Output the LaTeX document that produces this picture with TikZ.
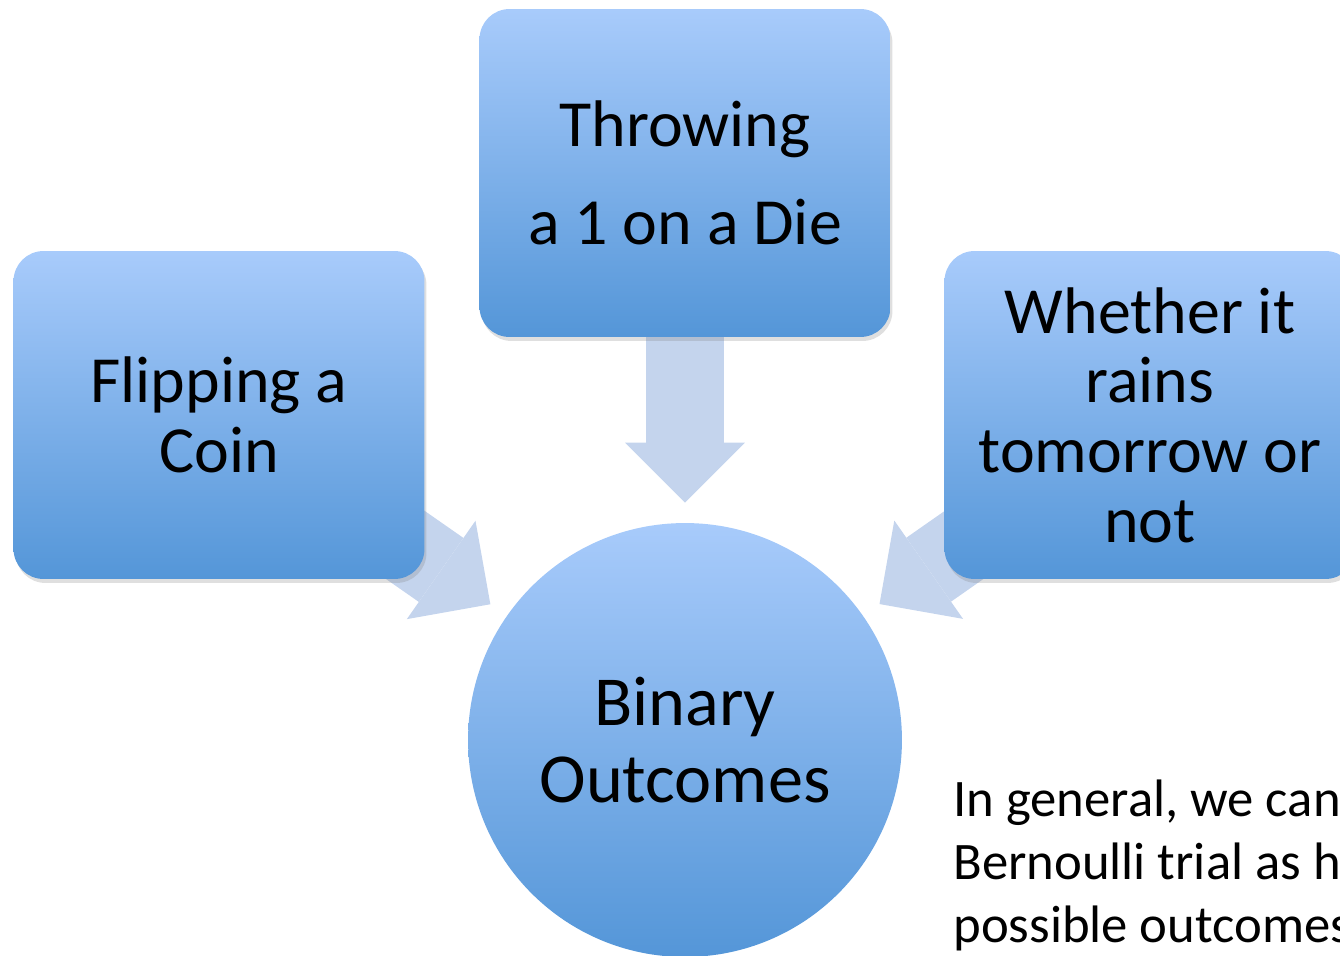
\documentclass[tikz,border=0pt]{standalone}
\usepackage{fontspec}
\setmainfont{Carlito}
\usetikzlibrary{arrows.meta,shadows}
\definecolor{boxTop}{RGB}{168,203,251}
\definecolor{boxBottom}{RGB}{84,150,216}
\definecolor{arrowBlue}{RGB}{196,212,237}
\pgfdeclarelayer{background}
\pgfsetlayers{background,main}

\begin{document}
\begin{tikzpicture}[
  x=0.02cm, y=-0.02cm,
  causeBox/.style={rounded corners=0.6cm,minimum width=8.22cm,minimum height=6.56cm,inner sep=0pt,
    top color=boxTop,bottom color=boxBottom,align=center,
    drop shadow={opacity=0.25,shadow xshift=0.04cm,shadow yshift=-0.08cm},
    font=\fontsize{37.5}{39.7}\selectfont},
  outcomeCircle/.style={circle,minimum size=8.68cm,inner sep=0pt,
    top color=boxTop,bottom color=boxBottom,align=center,
    font=\fontsize{40}{43.7}\selectfont},
  noteText/.style={anchor=north west,align=left,inner sep=0pt,font=\fontsize{30}{35.7}\selectfont},
  causeToOutcome/.style={-{Triangle[length=1.2cm,width=2.4cm,line width=0pt]},line width=1.56cm,
    arrowBlue,shorten >=0.4cm}]

  \useasboundingbox (0,0) rectangle (1340,956);
  \clip (0,0) rectangle (1340,956);

  % the three examples
  \node[causeBox] (coin) at (219,415) {Flipping a\\Coin};
  \node[causeBox,font=\fontsize{37.5}{55.6}\selectfont] (die) at (685,173) {Throwing\\a 1 on a Die};
  \node[causeBox] (rain) at (1150,415) {Whether it\\rains\\tomorrow or\\not};

  % what they share
  \node[outcomeCircle] (out) at (685,740) {Binary\\Outcomes};

  % remark, runs off the page
  \node[noteText] (note) at (953,780) {In general, we can\\Bernoulli trial as h\\possible outcomes};

  % examples to outcome, under the boxes
  \begin{pgfonlayer}{background}
    \draw [causeToOutcome] (coin.center) edge (out);
    \draw [causeToOutcome] (die.center) edge (out);
    \draw [causeToOutcome] (rain.center) edge (out);
  \end{pgfonlayer}

\end{tikzpicture}
\end{document}
